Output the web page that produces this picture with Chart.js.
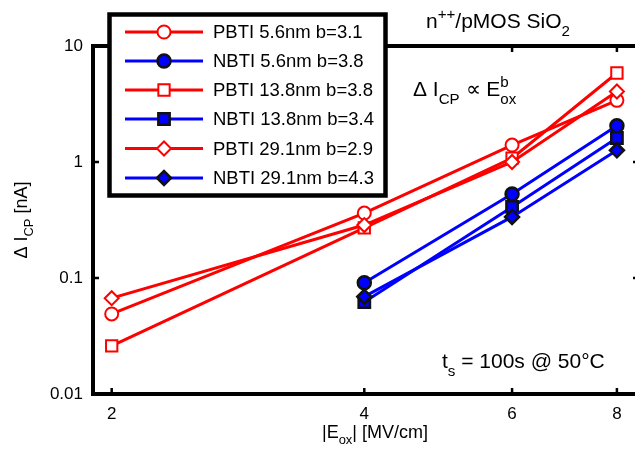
<!DOCTYPE html>
<html>
<head>
<meta charset="utf-8">
<script src="https://cdn.jsdelivr.net/npm/chart.js@4"></script>
<style>
  html, body { margin: 0; padding: 0; background: #fff; overflow: hidden; }
  canvas { display: block; }
</style>
</head>
<body>
<canvas id="myChart" width="650" height="455"></canvas>
<script>
// |Eox| in MV/cm
const eoxPbti = [2, 4, 6, 8];
const eoxNbti = [4, 6, 8];
// delta Icp in nA
const pbti56 = [0.049, 0.363, 1.40, 3.40];
const nbti56 = [0.091, 0.53, 2.05];
const pbti138 = [0.026, 0.27, 1.08, 5.85];
const nbti138 = [0.062, 0.41, 1.61];
const pbti291 = [0.067, 0.286, 1.0, 4.05];
const nbti291 = [0.069, 0.336, 1.26];
const seriesNames = [
  "PBTI 5.6nm b=3.1",
  "NBTI 5.6nm b=3.8",
  "PBTI 13.8nm b=3.8",
  "NBTI 13.8nm b=3.4",
  "PBTI 29.1nm b=2.9",
  "NBTI 29.1nm b=4.3",
];
const xTicks = [2, 4, 6, 8];
const yTicks = [0.01, 0.1, 1, 10];

const FONT = '"Liberation Sans", Arial, sans-serif';
const RED = "#ff0000";
const BLUE = "#0000ff";

const pts = (xs, ys) => xs.map((x, i) => ({ x: x, y: ys[i] }));

const pStyle = (color, shape, r) => ({
  borderColor: color,
  backgroundColor: "#ffffff",
  pointBackgroundColor: "#ffffff",
  pointBorderColor: color,
  pointBorderWidth: 2,
  pointStyle: shape,
  pointRadius: r,
  borderWidth: 3,
  showLine: true,
});
const nStyle = (shape, r) => ({
  borderColor: BLUE,
  backgroundColor: BLUE,
  pointBackgroundColor: BLUE,
  pointBorderColor: "#111111",
  pointBorderWidth: 2.5,
  pointStyle: shape,
  pointRadius: r,
  borderWidth: 3,
  showLine: true,
});

// later series drawn on top, like the original plot
const datasets = [
  { label: seriesNames[0], data: pts(eoxPbti, pbti56), order: 0, ...pStyle(RED, "circle", 6.5) },
  { label: seriesNames[1], data: pts(eoxNbti, nbti56), order: -1, ...nStyle("circle", 6.5) },
  { label: seriesNames[2], data: pts(eoxPbti, pbti138), order: -2, ...pStyle(RED, "rect", 8) },
  { label: seriesNames[3], data: pts(eoxNbti, nbti138), order: -3, ...nStyle("rect", 8) },
  { label: seriesNames[4], data: pts(eoxPbti, pbti291), order: -4, ...pStyle(RED, "rectRot", 7) },
  { label: seriesNames[5], data: pts(eoxNbti, nbti291), order: -5, ...nStyle("rectRot", 7) },
];

// text with sub / superscripts
function rich(ctx, x, y, parts, size) {
  let cx = x;
  parts.forEach((p) => {
    const s = p.s ? size * 0.72 : size;
    ctx.font = s + "px " + FONT;
    let dy = 0;
    if (p.s === "sub") dy = size * 0.36;
    if (p.s === "sup") dy = -size * 0.45;
    ctx.fillText(p.t, cx, y + dy);
    if (!p.stay) cx += ctx.measureText(p.t).width;
  });
  return cx - x;
}
function richWidth(ctx, parts, size) {
  let w = 0;
  parts.forEach((p) => {
    ctx.font = (p.s ? size * 0.72 : size) + "px " + FONT;
    if (!p.stay) w += ctx.measureText(p.t).width;
  });
  return w;
}

const decor = {
  id: "decor",
  afterDatasetsDraw(chart) {
    const ctx = chart.ctx;
    const a = chart.chartArea;
    const xs = chart.scales.x;
    const ys = chart.scales.y;
    ctx.save();

    // axes box
    ctx.strokeStyle = "#000";
    ctx.lineWidth = 4;
    ctx.lineCap = "square";
    ctx.strokeRect(a.left, a.top, a.right - a.left, a.bottom - a.top);

    // inward ticks
    ctx.lineWidth = 2.5;
    ctx.lineCap = "butt";
    ctx.beginPath();
    xTicks.forEach((v) => {
      const px = xs.getPixelForValue(v);
      ctx.moveTo(px, a.bottom);
      ctx.lineTo(px, a.bottom - 6);
      ctx.moveTo(px, a.top);
      ctx.lineTo(px, a.top + 6);
    });
    yTicks.forEach((v) => {
      const py = ys.getPixelForValue(v);
      ctx.moveTo(a.left, py);
      ctx.lineTo(a.left + 6, py);
      ctx.moveTo(a.right, py);
      ctx.lineTo(a.right - 6, py);
    });
    ctx.stroke();

    // annotations
    ctx.fillStyle = "#000";
    ctx.textAlign = "left";
    ctx.textBaseline = "alphabetic";
    rich(ctx, 426, 28, [
      { t: "n" }, { t: "++", s: "sup" }, { t: "/pMOS SiO" }, { t: "2", s: "sub" },
    ], 21);
    rich(ctx, 413, 96, [
      { t: "\u0394 I" }, { t: "CP", s: "sub" }, { t: " \u221D E" },
      { t: "b", s: "sup", stay: true }, { t: "ox", s: "sub" },
    ], 21);
    rich(ctx, 442, 368, [
      { t: "t" }, { t: "s", s: "sub" }, { t: " = 100s @ 50\u00B0C" },
    ], 21);

    // axis titles
    const xt = [{ t: "|E" }, { t: "ox", s: "sub" }, { t: "| [MV/cm]" }];
    const xw = richWidth(ctx, xt, 18);
    rich(ctx, 428 - xw, 438, xt, 18);

    const yt = [{ t: "\u0394 I" }, { t: "CP", s: "sub" }, { t: " [nA]" }];
    const yw = richWidth(ctx, yt, 18);
    ctx.save();
    ctx.translate(27, (a.top + a.bottom) / 2 + yw / 2);
    ctx.rotate(-Math.PI / 2);
    rich(ctx, 0, 0, yt, 18);
    ctx.restore();

    // legend box
    ctx.fillStyle = "#fff";
    ctx.fillRect(109.5, 14.5, 276, 181);
    ctx.strokeStyle = "#000";
    ctx.lineWidth = 4.5;
    ctx.strokeRect(109.5, 14.5, 276, 181);

    const rowY = [32, 61, 90, 119, 148.5, 178];
    chart.data.datasets.forEach((ds, i) => {
      const y = rowY[i];
      ctx.strokeStyle = ds.borderColor;
      ctx.lineWidth = ds.borderWidth;
      ctx.beginPath();
      ctx.moveTo(125, y);
      ctx.lineTo(203, y);
      ctx.stroke();
      ctx.fillStyle = ds.pointBackgroundColor;
      ctx.strokeStyle = ds.pointBorderColor;
      ctx.lineWidth = ds.pointBorderWidth;
      Chart.helpers.drawPoint(ctx, {
        pointStyle: ds.pointStyle,
        radius: ds.pointRadius,
        rotation: 0,
        borderWidth: ds.pointBorderWidth,
      }, 164, y);
      ctx.fillStyle = "#000";
      ctx.font = "18.5px " + FONT;
      ctx.textBaseline = "middle";
      ctx.fillText(ds.label, 213, y + 1);
    });
    ctx.restore();
  },
};

const ctx = document.getElementById("myChart");
const grafico = new Chart(ctx, {
  type: "scatter",
  data: { datasets: datasets },
  options: {
    responsive: false,
    animation: false,
    devicePixelRatio: 1,
    layout: { padding: { left: 0, top: 46, right: 11, bottom: 0 } },
    plugins: {
      legend: { display: false },
      tooltip: { enabled: false },
    },
    scales: {
      x: {
        type: "logarithmic",
        min: 1.9,
        max: 8.5,
        afterBuildTicks: (s) => { s.ticks = xTicks.map((v) => ({ value: v })); },
        afterFit: (s) => { s.height = 61; },
        grid: { display: false, drawTicks: false },
        border: { display: false },
        ticks: {
          color: "#000",
          padding: 10,
          maxRotation: 0,
          font: { family: FONT, size: 17 },
          callback: (v) => String(v),
        },
      },
      y: {
        type: "logarithmic",
        min: 0.01,
        max: 10,
        afterBuildTicks: (s) => { s.ticks = yTicks.map((v) => ({ value: v })); },
        afterFit: (s) => { s.width = 93; },
        grid: { display: false, drawTicks: false },
        border: { display: false },
        ticks: {
          color: "#000",
          padding: 10,
          font: { family: FONT, size: 17 },
          callback: (v) => String(v),
        },
      },
    },
  },
  plugins: [decor],
});
</script>
</body>
</html>
